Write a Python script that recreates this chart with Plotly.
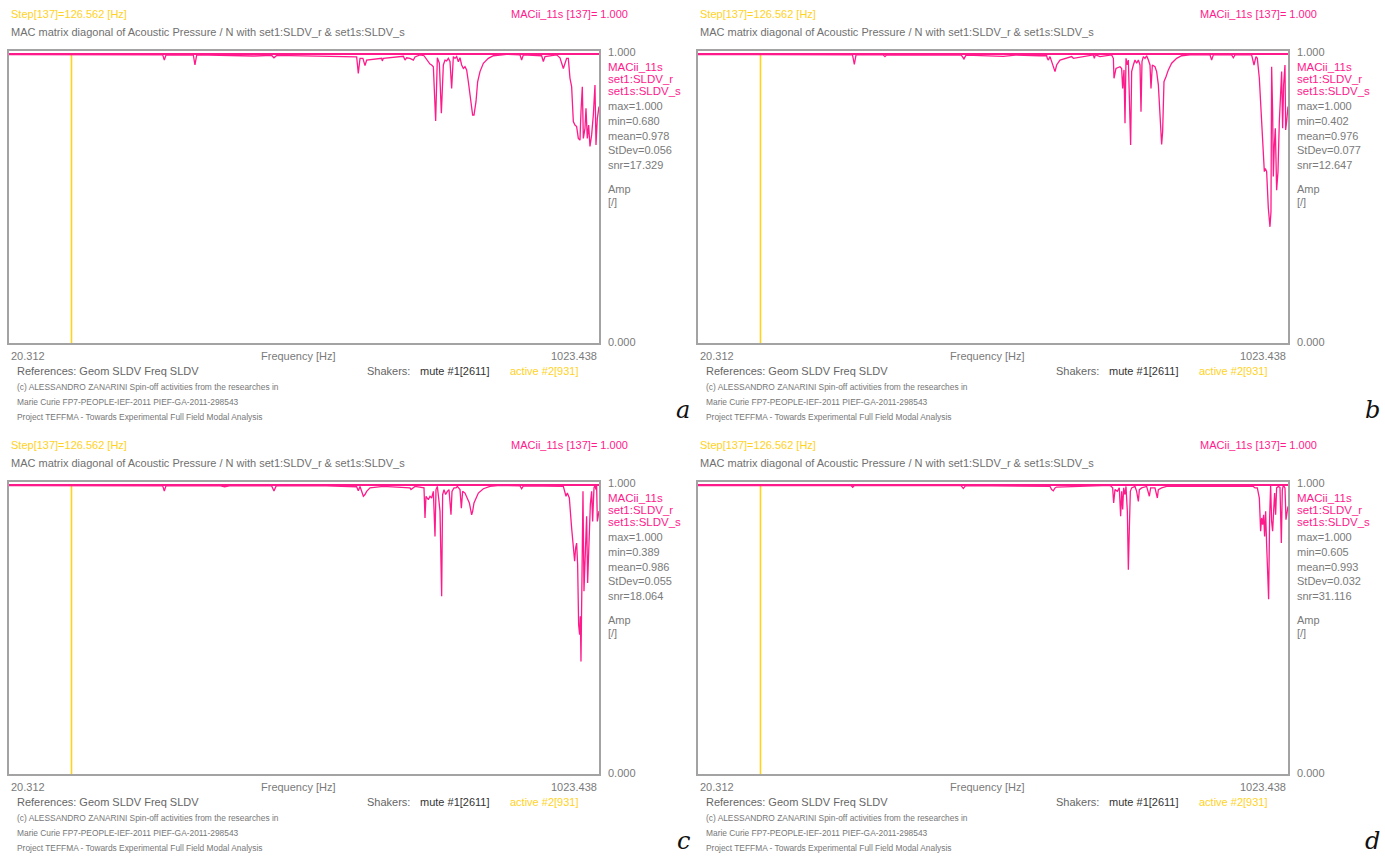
import plotly.graph_objects as go

W, H = 1385, 856

# Frequency axis limits [Hz] and current step marker
F_START = 20.312
F_END = 1023.438
STEP_FREQ = 126.562
STEP_INDEX = 137

# MAC diagonal, panel a
FREQ_A = [20.3, 281.6, 284.4, 287.2, 333.7, 336.5, 339.4, 436.8, 466.9, 470.8, 475.4, 537.7,
          571.7, 600.1, 611.4, 614.2, 617.1, 622.0, 625.6, 628.4, 640.0, 653.9, 655.0, 656.8,
          690.8, 693.6, 696.4, 702.1, 707.8, 710.6, 719.1, 725.9, 736.1, 738.9, 741.8, 745.7,
          748.6, 752.0, 755.4, 758.8, 761.6, 764.4, 767.3, 770.1, 772.9, 775.8, 778.6, 781.4,
          784.3, 787.1, 789.9, 792.8, 795.6, 798.4, 801.3, 804.1, 808.6, 810.9, 814.3, 817.1,
          821.1, 826.8, 835.3, 843.8, 855.1, 866.4, 889.1, 891.9, 894.8, 925.9, 928.8, 931.6,
          951.4, 957.1, 962.8, 968.4, 971.3, 974.1, 976.9, 979.8, 982.6, 985.4, 988.3, 991.1,
          992.8, 995.1, 996.8, 999.6, 1001.3, 1003.6, 1005.8, 1008.1, 1010.9, 1013.8, 1016.6,
          1018.3, 1020.6, 1023.4]
MAC_A = [0.998, 0.997, 0.979, 0.996, 0.997, 0.962, 0.997, 0.993, 0.995, 0.987, 0.995, 0.993,
         0.993, 0.991, 0.990, 0.933, 0.985, 0.985, 0.960, 0.979, 0.982, 0.985, 0.976, 0.985,
         0.992, 0.979, 0.987, 0.985, 0.979, 0.990, 0.997, 0.994, 0.965, 0.962, 0.956, 0.768,
         0.987, 0.968, 0.795, 0.962, 0.979, 0.976, 0.985, 0.974, 0.881, 0.991, 0.985, 0.991,
         0.973, 0.987, 0.962, 0.950, 0.956, 0.945, 0.904, 0.858, 0.789, 0.789, 0.835, 0.904,
         0.939, 0.968, 0.985, 0.994, 0.997, 0.999, 0.997, 0.979, 0.997, 0.994, 0.974, 0.991,
         0.997, 0.987, 0.950, 0.985, 0.985, 0.916, 0.887, 0.766, 0.754, 0.749, 0.708, 0.702,
         0.800, 0.887, 0.708, 0.743, 0.812, 0.708, 0.754, 0.680, 0.720, 0.789, 0.893,
         0.685, 0.777, 0.818]

# MAC diagonal, panel b
FREQ_B = [20.3, 283.0, 286.1, 289.0, 335.0, 338.2, 341.0, 468.0, 472.5, 476.0, 539.4, 560.0,
          601.8, 613.1, 614.2, 616.0, 618.8, 627.3, 630.1, 635.8, 655.6, 658.5, 692.5, 694.1,
          695.9, 703.8, 723.6, 726.5, 727.6, 731.0, 737.8, 740.6, 742.3, 744.6, 746.3, 748.0,
          750.3, 752.0, 755.9, 757.6, 760.5, 763.3, 766.1, 769.0, 771.8, 773.5, 775.2, 777.5,
          780.3, 783.1, 786.0, 788.8, 790.5, 792.8, 797.3, 800.1, 803.0, 805.8, 808.6, 810.3,
          812.6, 816.0, 820.0, 825.6, 834.1, 842.6, 856.8, 890.8, 893.6, 896.5, 927.6, 930.5,
          933.3, 961.6, 965.6, 969.0, 971.3, 974.7, 978.6, 981.5, 983.2, 984.9, 987.1, 990.0,
          991.7, 992.8, 994.5, 995.6, 997.3, 998.5, 1000.2, 1001.9, 1004.1, 1006.4, 1008.7,
          1010.9, 1012.6, 1014.3, 1016.0, 1018.3, 1019.4, 1021.1, 1023.4]
MAC_B = [0.998, 0.997, 0.964, 0.997, 0.997, 0.991, 0.997, 0.996, 0.983, 0.996, 0.992, 0.996,
         0.994, 0.994, 0.985, 0.979, 0.991, 0.939, 0.962, 0.979, 0.991, 0.985, 0.997, 0.985,
         0.997, 0.991, 0.997, 0.985, 0.916, 0.950, 0.956, 0.950, 0.881, 0.945, 0.760, 0.985,
         0.962, 0.979, 0.685, 0.939, 0.962, 0.979, 0.968, 0.979, 0.962, 0.800, 0.974, 0.991,
         0.985, 0.994, 0.979, 0.962, 0.881, 0.962, 0.956, 0.939, 0.893, 0.800, 0.687, 0.731,
         0.904, 0.921, 0.945, 0.968, 0.985, 0.994, 0.997, 0.997, 0.979, 0.997, 0.997, 0.987,
         0.997, 0.997, 0.962, 0.991, 0.985, 0.916, 0.743, 0.616, 0.593, 0.604, 0.593, 0.466,
         0.437, 0.402, 0.454, 0.956, 0.800, 0.576, 0.685, 0.743, 0.529, 0.593, 0.766,
         0.881, 0.939, 0.743, 0.893, 0.962, 0.737, 0.766, 0.818]

# MAC diagonal, panel c
FREQ_C = [20.3, 281.6, 284.4, 287.2, 380.0, 387.0, 395.0, 466.9, 470.8, 474.6, 560.0, 600.1,
          611.4, 614.2, 617.1, 622.8, 625.6, 628.4, 634.1, 656.8, 702.1, 703.8, 710.6, 725.9,
          727.6, 729.3, 733.3, 736.1, 738.9, 741.8, 744.6, 746.3, 748.6, 750.8, 753.1, 755.9,
          757.6, 759.9, 762.7, 765.6, 768.4, 771.8, 773.5, 776.9, 780.3, 782.6, 787.1, 789.4,
          791.6, 795.6, 799.6, 803.0, 806.9, 808.6, 810.9, 814.3, 818.3, 826.8, 838.1, 855.1,
          889.1, 891.9, 894.8, 962.8, 965.6, 967.3, 969.6, 973.0, 976.9, 979.8, 982.0, 983.7,
          985.4, 987.1, 988.8, 990.5, 991.7, 992.8, 994.5, 996.2, 997.9, 1000.2, 1002.4, 1004.1,
          1006.4, 1008.7, 1010.9, 1012.6, 1014.9, 1016.6, 1018.3, 1019.4, 1020.6, 1022.3, 1023.4]
MAC_C = [0.998, 0.997, 0.979, 0.997, 0.997, 0.994, 0.997, 0.997, 0.979, 0.997, 0.997, 0.995,
         0.994, 0.980, 0.995, 0.961, 0.967, 0.978, 0.990, 0.995, 0.990, 0.984, 0.995, 0.990,
         0.886, 0.961, 0.949, 0.961, 0.955, 0.978, 0.822, 0.984, 0.995, 0.955, 0.909, 0.615,
         0.967, 0.984, 0.967, 0.978, 0.984, 0.897, 0.978, 0.990, 0.990, 0.995, 0.984, 0.920,
         0.978, 0.972, 0.955, 0.938, 0.897, 0.909, 0.938, 0.955, 0.972, 0.987, 0.995, 0.999,
         0.997, 0.987, 0.997, 0.995, 0.978, 0.961, 0.972, 0.955, 0.851, 0.794, 0.736, 0.782,
         0.799, 0.724, 0.517, 0.482, 0.546, 0.389, 0.621, 0.978, 0.632, 0.794, 0.892, 0.661,
         0.828, 0.932, 0.978, 0.874, 0.990, 0.999, 0.984, 1.000, 0.874, 0.897, 0.910]

# MAC diagonal, panel d
FREQ_D = [20.3, 280.5, 283.3, 286.1, 467.5, 471.4, 475.3, 601.8, 618.8, 621.6, 624.4, 627.3,
          630.1, 720.8, 725.3, 727.0, 729.3, 733.3, 736.6, 738.9, 740.6, 742.3, 744.0, 746.3,
          748.0, 750.3, 752.0, 753.7, 755.4, 757.6, 763.3, 766.1, 769.0, 770.7, 774.6, 783.1,
          787.7, 789.9, 797.3, 801.3, 803.0, 808.6, 817.1, 964.5, 967.3, 971.3, 974.7, 976.9,
          978.6, 980.3, 982.0, 983.7, 985.4, 987.1, 988.8, 990.5, 992.2, 993.9, 995.6, 997.3,
          999.0, 1000.7, 1002.4, 1004.1, 1007.0, 1009.8, 1012.1, 1013.8, 1015.5, 1018.3, 1020.0,
          1022.3, 1023.4]
MAC_D = [0.998, 0.998, 0.992, 0.998, 0.998, 0.988, 0.998, 0.995, 0.995, 0.984, 0.980, 0.990,
         0.993, 0.999, 0.990, 0.938, 0.984, 0.978, 0.990, 0.892, 0.978, 0.915, 0.990, 0.967,
         0.995, 0.909, 0.707, 0.851, 0.978, 0.990, 0.995, 0.978, 0.943, 0.984, 0.990, 0.995,
         0.961, 0.990, 0.990, 0.955, 0.984, 0.990, 0.995, 0.995, 0.990, 0.990, 0.955, 0.840,
         0.886, 0.863, 0.897, 0.822, 0.909, 0.794, 0.655, 0.605, 0.886, 0.999, 0.874, 0.840,
         0.909, 0.972, 0.897, 0.990, 0.995, 0.992, 0.799, 0.984, 0.999, 0.990, 0.880,
         0.920, 0.926]

PANEL_LETTERS = ["a", "b", "c", "d"]
MAX_VALS = [1.000, 1.000, 1.000, 1.000]
MIN_VALS = [0.680, 0.402, 0.389, 0.605]
MEAN_VALS = [0.978, 0.976, 0.986, 0.993]
STDEV_VALS = [0.056, 0.077, 0.055, 0.032]
SNR_VALS = [17.329, 12.647, 18.064, 31.116]
MAC_AT_STEP = [1.000, 1.000, 1.000, 1.000]

SERIES = [(FREQ_A, MAC_A), (FREQ_B, MAC_B), (FREQ_C, MAC_C), (FREQ_D, MAC_D)]

PINK = "#ff1a8c"
YELLOW = "#ffd21e"
GRAY = "#7a7a7a"
FRAME = "#a3a3a3"
FONT = "Liberation Sans, Arial, sans-serif"

# pixel offsets of each panel's plotting box (left, top, right, bottom)
BOXES = [(9, 51, 599, 343), (698, 51, 1288, 343), (9, 482, 599, 774), (698, 482, 1288, 774)]
Y_TOP = 1.0 + 3 / 289

fig = go.Figure()
annotations = []


def ann(x, y, text, size=11, color=GRAY, anchor="left", family=FONT):
    annotations.append(dict(
        x=x / W, y=1 - y / H, xref="paper", yref="paper", text=text, showarrow=False,
        xanchor=anchor, yanchor="middle",
        font=dict(family=family, size=size, color=color)))


for i, ((fx, mac), (l, t, r, b)) in enumerate(zip(SERIES, BOXES)):
    n = "" if i == 0 else str(i + 1)
    xa, ya = "x" + n, "y" + n
    # current step marker
    fig.add_trace(go.Scatter(x=[STEP_FREQ, STEP_FREQ], y=[0, 1.0], mode="lines",
                             line=dict(color=YELLOW, width=1.6), xaxis=xa, yaxis=ya,
                             hoverinfo="skip", showlegend=False))
    # unit reference line
    fig.add_trace(go.Scatter(x=[F_START, F_END], y=[1.0, 1.0], mode="lines",
                             line=dict(color=PINK, width=2.2), xaxis=xa, yaxis=ya,
                             hoverinfo="skip", showlegend=False))
    # MAC diagonal curve
    fig.add_trace(go.Scatter(x=fx, y=mac, mode="lines",
                             line=dict(color=PINK, width=1.3), xaxis=xa, yaxis=ya,
                             showlegend=False))

    axis_common = dict(showgrid=False, zeroline=False, showticklabels=False, ticks="",
                       showline=True, mirror=True, linecolor=FRAME, linewidth=2)
    fig.update_layout(**{
        ("xaxis" + n): dict(domain=[l / W, r / W], range=[F_START, F_END], anchor=ya,
                            **axis_common),
        ("yaxis" + n): dict(domain=[1 - b / H, 1 - t / H], range=[0, Y_TOP], anchor=xa,
                            **axis_common),
    })

    # header
    ann(l, t - 37, f"Step[{STEP_INDEX}]={STEP_FREQ:.3f} [Hz]", color=YELLOW)
    ann(l + 621, t - 37, f"MACii_11s [{STEP_INDEX}]= {MAC_AT_STEP[i]:.3f}", color=PINK,
        anchor="right")
    ann(l, t - 19, "MAC matrix diagonal of Acoustic Pressure / N with set1:SLDV_r &amp; set1s:SLDV_s",
        color="#707070")

    # right-hand legend block
    rx = r + 7
    ann(rx, t + 1, "1.000")
    ann(rx, b - 1, "0.000")
    ann(rx, t + 16, "MACii_11s", color=PINK, size=11.5)
    ann(rx, t + 28, "set1:SLDV_r", color=PINK, size=11.5)
    ann(rx, t + 40, "set1s:SLDV_s", color=PINK, size=11.5)
    ann(rx, t + 55, f"max={MAX_VALS[i]:.3f}")
    ann(rx, t + 70, f"min={MIN_VALS[i]:.3f}")
    ann(rx, t + 85, f"mean={MEAN_VALS[i]:.3f}")
    ann(rx, t + 99, f"StDev={STDEV_VALS[i]:.3f}")
    ann(rx, t + 114, f"snr={SNR_VALS[i]:.3f}")
    ann(rx, t + 138, "Amp")
    ann(rx, t + 151, "[/]")

    # footer
    ann(l, b + 13, f"{F_START:.3f}")
    ann((l + r) / 2 - 6, b + 13, "Frequency [Hz]", anchor="center")
    ann(r, b + 13, f"{F_END:.3f}", anchor="right")
    ann(l + 6, b + 28, "References: Geom SLDV Freq SLDV", color="#666666")
    ann(l + 356, b + 28, "Shakers:", color="#666666")
    ann(l + 409, b + 28, "mute #1[2611]", color="#333333")
    ann(l + 499, b + 28, "active #2[931]", color=YELLOW)
    ann(l + 6, b + 44, "(c) ALESSANDRO ZANARINI Spin-off activities from the researches in",
        size=8.4, color="#777777")
    ann(l + 6, b + 59, "Marie Curie FP7-PEOPLE-IEF-2011 PIEF-GA-2011-298543", size=8.4,
        color="#777777")
    ann(l + 6, b + 74, "Project TEFFMA - Towards Experimental Full Field Modal Analysis", size=8.4,
        color="#777777")

    # panel letter
    ann(l + 674, b + 67, f"<i>{PANEL_LETTERS[i]}</i>", size=24, color="#111111",
        anchor="center", family="DejaVu Serif, serif")

fig.update_layout(width=W, height=H, margin=dict(l=0, r=0, t=0, b=0),
                  paper_bgcolor="white", plot_bgcolor="white",
                  annotations=annotations, showlegend=False)

fig.write_html("out.html")
